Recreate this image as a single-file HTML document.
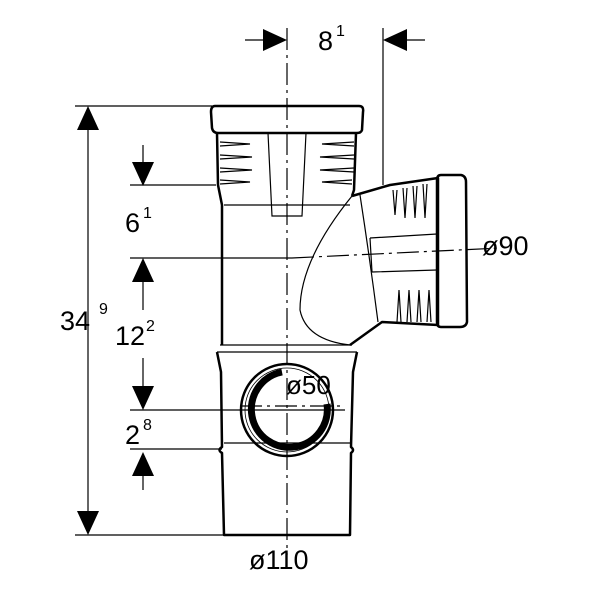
<!DOCTYPE html>
<html><head><style>body{margin:0;background:#fff}svg{display:block}text{font-family:"Liberation Sans",sans-serif;fill:#000}</style></head><body>
<svg width="600" height="600" viewBox="0 0 600 600" xmlns="http://www.w3.org/2000/svg" fill="none" stroke="#000">
<g stroke-width="1.2">
<line x1="75" y1="106" x2="212" y2="106"/><line x1="75" y1="535" x2="224" y2="535"/>
<line x1="88" y1="128" x2="88" y2="512"/>
<line x1="130" y1="185" x2="216" y2="185"/>
<line x1="130" y1="258" x2="292" y2="258"/>
<line x1="130" y1="410" x2="345" y2="410"/>
<line x1="130" y1="449" x2="222" y2="449"/>
<line x1="143" y1="280" x2="143" y2="310"/><line x1="143" y1="472" x2="143" y2="490"/>
<line x1="143" y1="358" x2="143" y2="388"/><line x1="143" y1="145" x2="143" y2="165"/>
<line x1="383" y1="28" x2="383" y2="185"/>
<line x1="245" y1="40" x2="265" y2="40"/><line x1="405" y1="40" x2="425" y2="40"/>
<line x1="287" y1="28" x2="287" y2="555" stroke-dasharray="22,5,3,5"/>
<line x1="292" y1="258" x2="500" y2="248" stroke-dasharray="22,5,3,5"/>
<line x1="240" y1="406" x2="345" y2="406" stroke-dasharray="22,5,3,5"/>
</g>
<g fill="#000" stroke="none">
<polygon points="88,106 77,130 99,130"/><polygon points="88,535 77,511 99,511"/>
<polygon points="143,186 132,162 154,162"/><polygon points="143,258 132,282 154,282"/>
<polygon points="143,410 132,386 154,386"/><polygon points="143,452 132,476 154,476"/>
<polygon points="287,40 263,29 263,51"/><polygon points="383,40 407,29 407,51"/>
</g>
<g stroke-width="2.5" stroke-linejoin="round">
<path d="M215,106 L359,106 Q364,106 363,112 L362,130 Q361,133 357,133 L218,133 Q213,133 212,128 L211,112 Q211,106 215,106Z"/>
<path d="M217,133 L218,185 L222,205 L222,345"/>
<path d="M356,133 L354,190 L352,196"/>
<path d="M352,196 L390,185 L438,178 L438,325 L382,322 L350,345"/>
<path d="M441,175 L461,175 Q466,176 466,182 L467,322 Q466,327 460,327 L441,327 Q437,327 437,322 L437,180 Q437,175 441,175Z"/>
<path d="M217,352 L221,372 L222,447 Q217,450 222,453 L224,535 L350,535 L351,453 Q355,450 351,447 L353,372 L357,352"/>
</g>
<g stroke-width="1.2">
<line x1="220" y1="345" x2="352" y2="345"/><line x1="217" y1="352" x2="357" y2="352"/>
<line x1="224" y1="205" x2="350" y2="205"/><line x1="224" y1="443" x2="350" y2="443"/>
<path d="M268,133 L272,216 L302,216 L306,133"/>
<path d="M352,196 Q300,260 300,310 Q306,340 350,345"/>
<path d="M360,195 Q370,260 378,322"/>
<path d="M370,238 L437,234 M372,272 L437,270 M370,238 L372,272"/>
<path d="M220,142 L250,144 L220,146 M220,155 L252,157 L220,159 M220,168 L252,170 L220,172 M220,180 L250,182 L220,184 M354,142 L322,144 L354,146 M354,155 L320,157 L354,159 M354,168 L320,170 L354,172 M352,180 L322,182 L352,184"/>
<path d="M393,190 L395,215 L397,190 M403,188 L405,218 L407,188 M413,186 L415,218 L417,186 M423,184 L425,218 L427,184 M397,322 L399,290 L401,322 M407,322 L409,290 L411,322 M417,322 L419,290 L421,322 M427,322 L429,290 L431,322"/>
</g>
<circle cx="287" cy="410" r="46" stroke-width="2.5"/>
<circle cx="287" cy="410" r="42" stroke-width="0.8"/>
<path d="M282,372 A38,38 0 1 0 327,404" stroke-width="7"/>
<text x="286" y="394" font-size="26" stroke="none">ø50</text>
<g stroke="none" font-size="27">
<text x="60" y="330">34</text><text x="99" y="314" font-size="16">9</text>
<text x="125" y="232">6</text><text x="143" y="218" font-size="16">1</text>
<text x="115" y="345">12</text><text x="146" y="331" font-size="16">2</text>
<text x="125" y="444">2</text><text x="143" y="430" font-size="16">8</text>
<text x="318" y="50">8</text><text x="336" y="36" font-size="16">1</text>
<text x="482" y="255">ø90</text>
<text x="249" y="569">ø110</text>
</g>
</svg>
</body></html>
